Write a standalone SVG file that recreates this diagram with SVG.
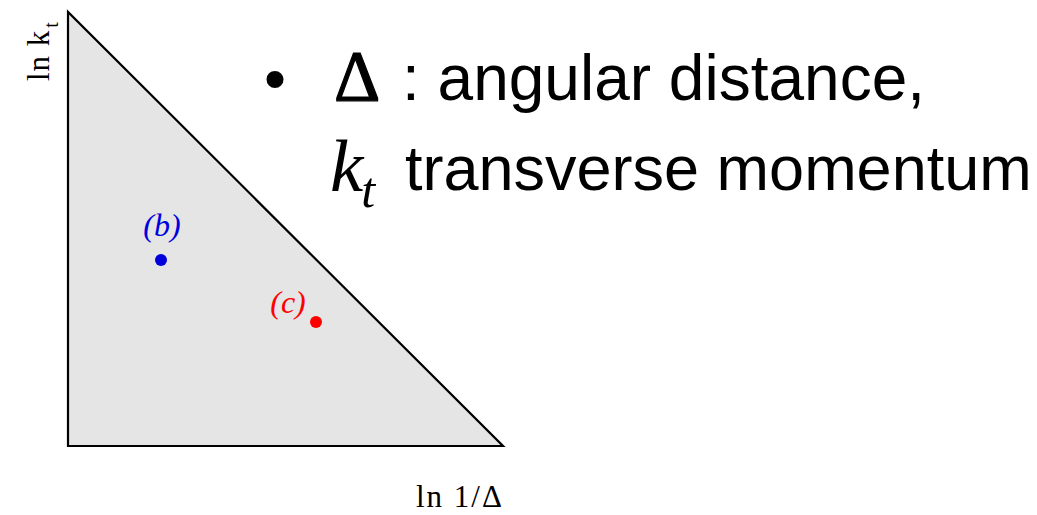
<svg xmlns="http://www.w3.org/2000/svg" width="1037" height="515" viewBox="0 0 1037 515">
<style>
.serif{font-family:"Liberation Serif","Times New Roman",serif;fill:#000}
.sans{font-family:"Liberation Sans",Arial,sans-serif;fill:#000}
.ital{font-style:italic}
</style>
<rect width="1037" height="515" fill="#fff"/>
<g id="region">
<polygon points="68,12 68,446 503,446" fill="#e5e5e5" stroke="#000" stroke-width="2.2" stroke-linejoin="miter"/>
</g>
<g id="axis-y">
<text class="serif" font-size="31" letter-spacing="1" transform="translate(49,81) rotate(-90)">ln k<tspan font-size="20" dx="2" dy="9">t</tspan></text>
</g>
<g id="axis-x">
<text class="serif" font-size="31" x="416" y="507" letter-spacing="2">ln 1/Δ</text>
</g>
<g id="point-b">
<circle cx="161" cy="260" r="6" fill="#0000dd"/>
<text class="serif ital" font-size="32" x="162" y="236" text-anchor="middle" style="fill:#0000dd">(b)</text>
</g>
<g id="point-c">
<circle cx="316" cy="322" r="6" fill="#ff0000"/>
<text class="serif ital" font-size="32" x="288" y="313" text-anchor="middle" style="fill:#ff0000">(c)</text>
</g>
<g id="legend">
<text class="sans" font-size="63" x="264" y="100">•</text>
<text class="serif" font-size="72" x="334" y="100" stroke="#000" stroke-width="1.2">Δ</text>
<text class="sans" font-size="64" x="402" y="100">: angular distance,</text>
<text class="serif ital" font-size="75" x="330" y="191">k<tspan font-size="50" dx="-2" dy="16">t</tspan></text>
<text class="sans" font-size="63" x="405" y="190">transverse momentum</text>
</g>
</svg>
